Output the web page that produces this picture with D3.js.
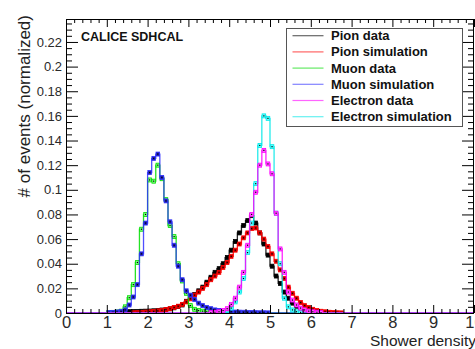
<!DOCTYPE html>
<html>
<head>
<meta charset="utf-8">
<script src="https://cdn.jsdelivr.net/npm/d3@7"></script>
<style>
  html, body { margin: 0; padding: 0; background: #fff; }
  svg { display: block; font-family: "Liberation Sans", Arial, sans-serif; }
</style>
</head>
<body>
<svg id="chart" width="475" height="349"></svg>
<script>
// ---------------- DATA ----------------
const binWidth = 0.1;
const xTickLabels = ["0","1","2","3","4","5","6","7","8","9","10"];
const yTickLabels = ["0","0.02","0.04","0.06","0.08","0.1","0.12","0.14","0.16","0.18","0.2","0.22"];
const seriesNames = ["Pion data","Pion simulation","Muon data","Muon simulation","Electron data","Electron simulation"];

// each series: first bin lower edge, then bin contents (width 0.1)
const pionDataStart = 1.0;
const pionData = [0.0003,0.0005,0.0006,0.0008,0.001,0.0011,0.0012,0.0013,0.0014,0.0015,
  0.0016,0.0018,0.002,0.0024,0.0028,0.0034,0.0042,0.0052,0.0065,0.0095,
  0.013,0.015,0.018,0.021,0.025,0.029,0.033,0.036,0.040,0.045,
  0.051,0.058,0.065,0.071,0.075,0.079,0.073,0.065,0.056,0.047,
  0.038,0.030,0.024,0.017,0.012,0.008,0.0055,0.0035,0.002,0.001,
  0.0005,0.0002];

const pionSimStart = 1.6;
const pionSim = [0.0002,0.0003,0.0005,0.0007,
  0.001,0.0013,0.0017,0.0022,0.0028,0.0035,0.0045,0.0055,0.007,0.009,
  0.0115,0.0145,0.017,0.020,0.023,0.027,0.030,0.033,0.037,0.041,
  0.046,0.051,0.056,0.061,0.065,0.0685,0.069,0.065,0.060,0.054,
  0.048,0.042,0.035,0.028,0.021,0.016,0.012,0.0085,0.006,0.0045,
  0.003,0.002,0.0014,0.001,0.0006,0.0004,0.0002,0.0001];

const muonDataStart = 1.0;
const muonData = [0.0002,0.0004,0.0008,0.0015,0.005,0.0124,0.023,0.041,0.068,0.080,
  0.108,0.107,0.120,0.109,0.092,0.071,0.062,0.040,0.026,0.016,
  0.006,0.003,0.002,0.0015,0.001,0.0008,0.0006,0.0005,0.0004,0.0003,
  0.0002];

const muonSimStart = 1.0;
const muonSim = [0.0003,0.0005,0.0008,0.0012,0.0025,0.0065,0.013,0.023,0.048,0.073,
  0.114,0.1255,0.129,0.110,0.091,0.074,0.055,0.038,0.027,0.018,
  0.0145,0.011,0.008,0.006,0.0045,0.0035,0.0025,0.002,0.0015,0.0012,
  0.001,0.0008,0.0007,0.0006,0.0005,0.0004,0.0003,0.0002,0.0002,0.0001];

const electronDataStart = 3.5;
const electronData = [0.0003,0.0006,0.001,0.002,0.0035,
  0.007,0.012,0.021,0.033,0.055,0.080,0.098,0.120,0.132,0.121,
  0.113,0.081,0.052,0.033,0.017,0.0105,0.0065,0.004,0.0025,0.0015,
  0.001,0.0006,0.0003];

const electronSimStart = 3.7;
const electronSim = [0.0005,0.001,0.002,
  0.004,0.009,0.017,0.028,0.049,0.073,0.105,0.136,0.160,0.158,
  0.135,0.081,0.040,0.012,0.005,0.0025,0.001,0.0005];

// ---------------- STYLE / LAYOUT ----------------
const colors = ["#000000","#ff0000","#00dd00","#3030ff","#ff00ff","#00e8e8"];
const markerFill = ["#000000","#cc0000","#80ff80","#2020b0","#ff60ff","#60ffff"];
const padL = 66, padR = 474, padT = 19, padB = 313;

const svg = d3.select("#chart");
const x = d3.scaleLinear().domain([0, 10]).range([padL, padR]);
const y = d3.scaleLinear().domain([0, (padB - padT) / 1232]).range([padB, padT]);

function fullBins(start, vals) {
  const arr = new Array(100).fill(0);
  const off = Math.round(start / binWidth);
  vals.forEach((v, i) => { if (off + i < 100) arr[off + i] = v; });
  return arr;
}
const allSeries = [
  fullBins(pionDataStart, pionData),
  fullBins(pionSimStart, pionSim),
  fullBins(muonDataStart, muonData),
  fullBins(muonSimStart, muonSim),
  fullBins(electronSimStart, electronSim),
  fullBins(electronDataStart, electronData)
];
const drawColorIdx = [0, 1, 2, 3, 5, 4];

svg.append("defs").append("clipPath").attr("id", "plotclip")
  .append("rect").attr("x", padL).attr("y", padT).attr("width", padR - padL).attr("height", padB - padT + 1);

const plot = svg.append("g").attr("clip-path", "url(#plotclip)");

const line = d3.line().x(d => x(d[0])).y(d => y(d[1])).curve(d3.curveStepAfter);

allSeries.forEach((bins, k) => {
  const ci = drawColorIdx[k];
  const pts = bins.map((v, i) => [i * binWidth, v]);
  pts.push([10, bins[99]]);
  plot.append("path").attr("d", line(pts))
    .attr("fill", "none").attr("stroke", colors[ci]).attr("stroke-width", 1.3)
    .attr("opacity", 0.85);
  const nz = bins.map((v, i) => ({v, i})).filter(d => d.v > 0);
  const g = plot.append("g");
  g.selectAll("rect.m").data(nz).enter().append("rect")
    .attr("x", d => x((d.i + 0.5) * binWidth) - 1.8)
    .attr("y", d => y(d.v) - 2)
    .attr("width", 3.6).attr("height", 4)
    .attr("fill", markerFill[ci]).attr("stroke", colors[ci]).attr("stroke-width", 0.8);
  g.selectAll("rect.d").data(nz).enter().append("rect")
    .attr("x", d => x((d.i + 0.5) * binWidth) - 0.6)
    .attr("y", d => y(d.v) - 0.6)
    .attr("width", 1.2).attr("height", 1.2).attr("fill", "#000");
});

// ---------------- AXES ----------------
const axisColor = "#000";
const majorX = d3.range(0, 11, 1);
const minorX = d3.range(0, 10.01, 0.2).filter(v => Math.abs(v - Math.round(v)) > 1e-6);
const majorY = d3.range(0, 0.2201, 0.02);
const minorY = d3.range(0, 0.2386, 0.005).filter(v => Math.abs(v / 0.02 - Math.round(v / 0.02)) > 1e-6);

const gx = svg.append("g").attr("transform", `translate(0,${padB})`)
  .call(d3.axisBottom(x).tickValues(majorX).tickFormat((d, i) => xTickLabels[i]).tickSize(-8).tickPadding(3));
svg.append("g").attr("transform", `translate(0,${padB})`)
  .call(d3.axisBottom(x).tickValues(minorX).tickFormat("").tickSize(-4));
svg.append("g").attr("transform", `translate(0,${padT})`)
  .call(d3.axisTop(x).tickValues(majorX).tickFormat("").tickSize(-8));
svg.append("g").attr("transform", `translate(0,${padT})`)
  .call(d3.axisTop(x).tickValues(minorX).tickFormat("").tickSize(-4));
const gy = svg.append("g").attr("transform", `translate(${padL},0)`)
  .call(d3.axisLeft(y).tickValues(majorY).tickFormat((d, i) => yTickLabels[i]).tickSize(-12).tickPadding(4));
svg.append("g").attr("transform", `translate(${padL},0)`)
  .call(d3.axisLeft(y).tickValues(minorY).tickFormat("").tickSize(-6));
svg.append("g").attr("transform", `translate(${padR},0)`)
  .call(d3.axisRight(y).tickValues(majorY).tickFormat("").tickSize(-12));
svg.append("g").attr("transform", `translate(${padR},0)`)
  .call(d3.axisRight(y).tickValues(minorY).tickFormat("").tickSize(-6));

svg.selectAll(".domain").remove();
svg.selectAll(".tick line").attr("stroke", axisColor).attr("stroke-width", 1);
gx.selectAll("text").attr("font-size", 16.5).attr("fill", "#2a2a2a")
  .attr("font-family", "Liberation Sans, Arial, sans-serif");
gy.selectAll("text").attr("font-size", 13).attr("fill", "#2a2a2a")
  .attr("font-family", "Liberation Sans, Arial, sans-serif");

svg.append("rect").attr("x", padL + 0.5).attr("y", padT + 0.5)
  .attr("width", padR - padL - 1).attr("height", padB - padT)
  .attr("fill", "none").attr("stroke", "#000").attr("stroke-width", 1);

svg.append("text").attr("x", 476).attr("y", 345.5).attr("text-anchor", "end")
  .attr("font-size", 15.5).attr("fill", "#222").text("Shower density");
svg.append("text").attr("transform", "translate(29.5,15) rotate(-90)")
  .attr("text-anchor", "end").attr("font-size", 17).attr("fill", "#222")
  .text("# of events (normalized)");

svg.append("text").attr("x", 81).attr("y", 41).attr("font-size", 12.5)
  .attr("font-weight", "bold").attr("fill", "#111").text("CALICE SDHCAL");

const lg = svg.append("g");
lg.append("rect").attr("x", 286.5).attr("y", 28.5).attr("width", 176).attr("height", 98)
  .attr("fill", "#fff").attr("stroke", "#555").attr("stroke-width", 1);
seriesNames.forEach((name, i) => {
  const cy = 35.7 + i * 16.2;
  lg.append("line").attr("x1", 292.5).attr("x2", 323.5).attr("y1", cy).attr("y2", cy)
    .attr("stroke", colors[i]).attr("stroke-width", 1.2).attr("opacity", 0.6);
  lg.append("text").attr("x", 331).attr("y", cy + 4.5).attr("font-size", 13)
    .attr("font-weight", "bold").attr("fill", "#111").text(name);
});
</script>
</body>
</html>
